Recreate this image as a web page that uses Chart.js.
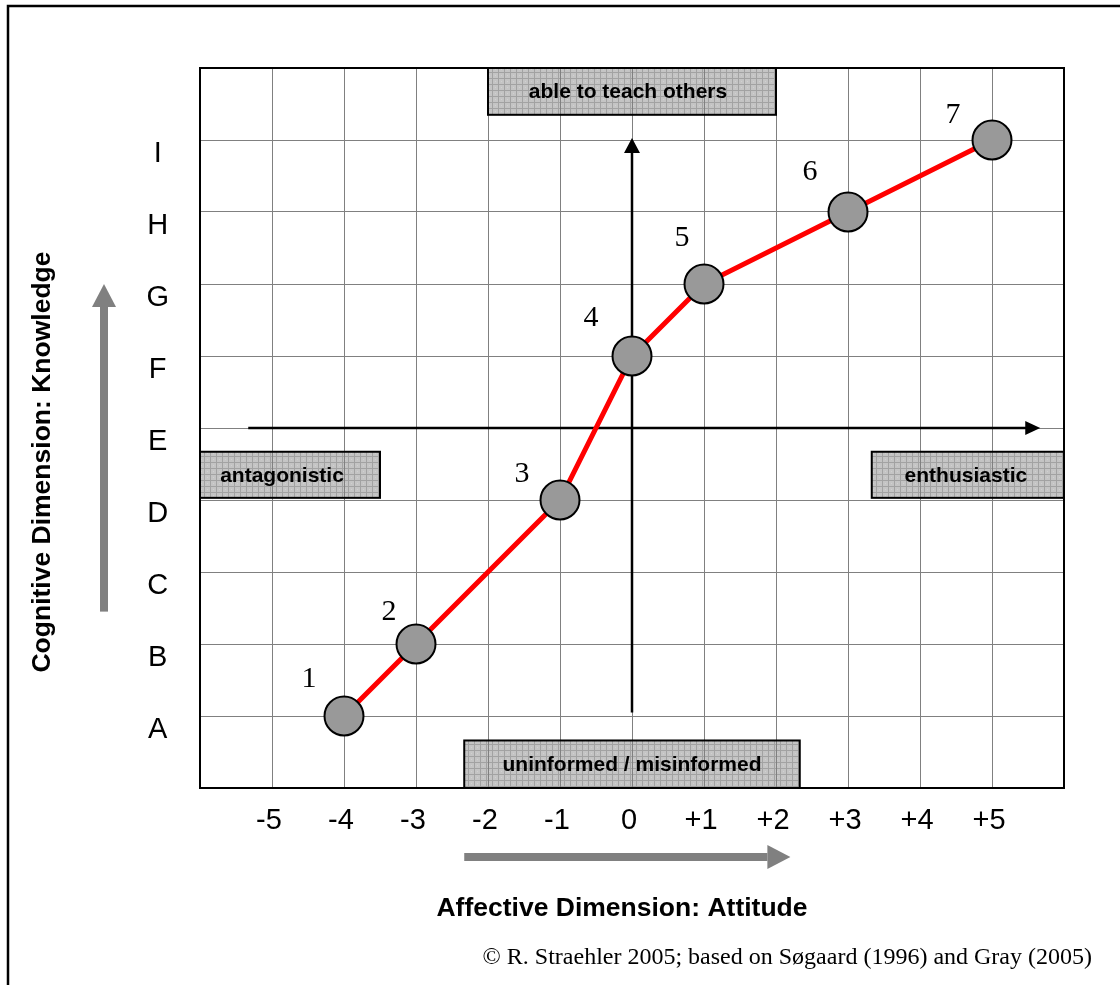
<!DOCTYPE html>
<html>
<head>
<meta charset="utf-8">
<script src="https://cdn.jsdelivr.net/npm/chart.js@4/dist/chart.umd.min.js"></script>
<style>
  html, body { margin: 0; padding: 0; background: #fff; }
  #wrap { width: 1120px; height: 985px; position: relative; }
</style>
</head>
<body>
<div id="wrap"><canvas id="c" width="1120" height="985"></canvas></div>
<script>
// ---- data ----
const stageNumbers = ['1', '2', '3', '4', '5', '6', '7'];
const attitude = [-4, -3, -1, 0, 1, 3, 5];      // affective dimension
const knowledge = [1, 2, 4, 6, 7, 8, 9];        // cognitive dimension (A=1 ... I=9)
const xTickLabels = ['-5', '-4', '-3', '-2', '-1', '0', '+1', '+2', '+3', '+4', '+5'];
const yTickLabels = ['A', 'B', 'C', 'D', 'E', 'F', 'G', 'H', 'I'];
const boxTexts = ['able to teach others', 'antagonistic', 'enthusiastic', 'uninformed / misinformed'];
const xTitle = 'Affective Dimension: Attitude';
const yTitle = 'Cognitive Dimension: Knowledge';
const credit = '\u00A9 R. Straehler 2005; based on S\u00F8gaard (1996) and Gray (2005)';

// ---- styling helpers ----
const SANS = '"Liberation Sans", Arial, Helvetica, sans-serif';
const SERIF = '"Liberation Serif", "Times New Roman", serif';

function makePattern(ctx) {
  const pc = document.createElement('canvas');
  pc.width = 6; pc.height = 6;
  const p = pc.getContext('2d');
  p.fillStyle = '#c4c4c4'; p.fillRect(0, 0, 6, 6);
  p.fillStyle = '#a2a2a2'; p.fillRect(0, 0, 6, 1); p.fillRect(0, 0, 1, 6);
  p.fillStyle = '#d0d0d0'; p.fillRect(3, 3, 1, 1);
  return ctx.createPattern(pc, 'repeat');
}

// box extents in data units [x0, x1, y0, y1]
const boxExtents = [
  [-2, 2, 9.35, 10],
  [-6, -3.5, 4.03, 4.67],
  [3.33, 6, 4.03, 4.67],
  [-2.33, 2.33, 0, 0.66]
];
const boxTextShift = [-4, -8, -2, 0];
const numberOffsets = [[-35, -37], [-27, -32], [-38, -26], [-41, -38], [-22, -46], [-38, -40], [-39, -25]];

function boxRect(chart, b) {
  const xs = chart.scales.x, ys = chart.scales.y;
  const x0 = xs.getPixelForValue(b[0]), x1 = xs.getPixelForValue(b[1]);
  const y0 = ys.getPixelForValue(b[3]), y1 = ys.getPixelForValue(b[2]);
  return [x0, y0, x1 - x0, y1 - y0];
}

const decor = {
  id: 'decor',
  beforeDraw(chart) {
    const ctx = chart.ctx;
    ctx.save();
    ctx.fillStyle = '#fff';
    ctx.fillRect(0, 0, chart.width, chart.height);
    // outer frame
    ctx.strokeStyle = '#000';
    ctx.lineWidth = 2.5;
    ctx.beginPath();
    ctx.moveTo(8, chart.height);
    ctx.lineTo(8, 6);
    ctx.lineTo(chart.width, 6);
    ctx.stroke();
    // box fills (under grid)
    ctx.fillStyle = makePattern(ctx);
    boxExtents.forEach(b => {
      const r = boxRect(chart, b);
      ctx.fillRect(r[0], r[1], r[2], r[3]);
    });
    ctx.restore();
  },
  beforeDatasetsDraw(chart) {
    const ctx = chart.ctx;
    const a = chart.chartArea;
    const xs = chart.scales.x, ys = chart.scales.y;
    ctx.save();
    // plot frame
    ctx.strokeStyle = '#000';
    ctx.lineWidth = 2;
    ctx.strokeRect(a.left, a.top, a.right - a.left, a.bottom - a.top);
    // boxes outline + text
    ctx.font = 'bold 21px ' + SANS;
    ctx.textAlign = 'center';
    ctx.textBaseline = 'middle';
    boxExtents.forEach((b, i) => {
      const r = boxRect(chart, b);
      ctx.lineWidth = 2;
      ctx.strokeStyle = '#000';
      ctx.strokeRect(r[0], r[1], r[2], r[3]);
      ctx.fillStyle = '#000';
      ctx.fillText(boxTexts[i], r[0] + r[2] / 2 + boxTextShift[i], r[1] + r[3] / 2 + 1);
    });
    // black axis arrows
    ctx.strokeStyle = '#000';
    ctx.fillStyle = '#000';
    ctx.lineWidth = 2.5;
    const ey = ys.getPixelForValue(5);
    const hx0 = xs.getPixelForValue(-5.33), hx1 = xs.getPixelForValue(5.67);
    ctx.beginPath(); ctx.moveTo(hx0, ey); ctx.lineTo(hx1 - 12, ey); ctx.stroke();
    ctx.beginPath(); ctx.moveTo(hx1, ey); ctx.lineTo(hx1 - 15, ey - 7); ctx.lineTo(hx1 - 15, ey + 7); ctx.closePath(); ctx.fill();
    const vx = xs.getPixelForValue(0);
    const vy0 = ys.getPixelForValue(1.05), vy1 = ys.getPixelForValue(9) - 2;
    ctx.beginPath(); ctx.moveTo(vx, vy0); ctx.lineTo(vx, vy1 + 12); ctx.stroke();
    ctx.beginPath(); ctx.moveTo(vx, vy1); ctx.lineTo(vx - 8, vy1 + 15); ctx.lineTo(vx + 8, vy1 + 15); ctx.closePath(); ctx.fill();
    // gray direction arrows
    ctx.fillStyle = '#808080';
    const gy = a.bottom + 69;
    const gx0 = xs.getPixelForValue(-2.33), gx1 = xs.getPixelForValue(2.2);
    ctx.fillRect(gx0, gy - 4, gx1 - 23 - gx0, 8);
    ctx.beginPath(); ctx.moveTo(gx1, gy); ctx.lineTo(gx1 - 23, gy - 12); ctx.lineTo(gx1 - 23, gy + 12); ctx.closePath(); ctx.fill();
    const gvx = a.left - 96;
    const gvy0 = ys.getPixelForValue(2.45), gvy1 = ys.getPixelForValue(7.0);
    ctx.fillRect(gvx - 4, gvy1 + 23, 8, gvy0 - gvy1 - 23);
    ctx.beginPath(); ctx.moveTo(gvx, gvy1); ctx.lineTo(gvx - 12, gvy1 + 23); ctx.lineTo(gvx + 12, gvy1 + 23); ctx.closePath(); ctx.fill();
    // axis titles
    ctx.fillStyle = '#000';
    ctx.font = 'bold 26.5px ' + SANS;
    ctx.textAlign = 'center';
    ctx.textBaseline = 'middle';
    ctx.fillText(xTitle, a.left + 422, a.bottom + 121);
    ctx.save();
    ctx.translate(43, a.top + 394);
    ctx.rotate(-Math.PI / 2);
    ctx.fillText(yTitle, 0, 0);
    ctx.restore();
    // credit line
    ctx.font = '24px ' + SERIF;
    ctx.textAlign = 'right';
    ctx.fillText(credit, 1092, a.bottom + 170);
    ctx.restore();
  },
  afterDatasetsDraw(chart) {
    const ctx = chart.ctx;
    const meta = chart.getDatasetMeta(0);
    ctx.save();
    ctx.font = '30px ' + SERIF;
    ctx.fillStyle = '#000';
    ctx.textAlign = 'center';
    ctx.textBaseline = 'middle';
    meta.data.forEach((pt, i) => {
      const o = numberOffsets[i];
      ctx.fillText(stageNumbers[i], pt.x + o[0], pt.y + o[1]);
    });
    ctx.restore();
  }
};

new Chart(document.getElementById('c'), {
  type: 'scatter',
  data: {
    datasets: [{
      data: attitude.map((v, i) => ({ x: v, y: knowledge[i] })),
      showLine: true,
      borderColor: '#ff0000',
      borderWidth: 5,
      pointRadius: 19.5,
      pointHoverRadius: 19.5,
      pointBackgroundColor: '#999999',
      pointBorderColor: '#000000',
      pointBorderWidth: 2,
      clip: false
    }]
  },
  options: {
    responsive: false,
    animation: false,
    events: [],
    layout: { padding: { top: 68, right: 56, left: 0, bottom: 0 } },
    plugins: { legend: { display: false }, tooltip: { enabled: false }, title: { display: false } },
    scales: {
      x: {
        type: 'linear', min: -6, max: 6,
        afterFit(s) { s.height = 197; },
        grid: { color: '#808080', lineWidth: 1, drawTicks: false },
        border: { display: false },
        ticks: {
          stepSize: 1, padding: 16, color: '#000', labelOffset: -3,
          font: { family: SANS, size: 29 },
          maxRotation: 0, autoSkip: false,
          callback: v => (v >= -5 && v <= 5) ? xTickLabels[v + 5] : ''
        }
      },
      y: {
        type: 'linear', min: 0, max: 10,
        afterFit(s) { s.width = 200; },
        grid: { color: '#808080', lineWidth: 1, drawTicks: false },
        border: { display: false },
        ticks: {
          stepSize: 1, padding: 31, color: '#000', labelOffset: 14,
          crossAlign: 'center',
          font: { family: SANS, size: 29 },
          autoSkip: false,
          callback: v => (v >= 1 && v <= 9) ? yTickLabels[v - 1] : ''
        }
      }
    }
  },
  plugins: [decor]
});
</script>
</body>
</html>
